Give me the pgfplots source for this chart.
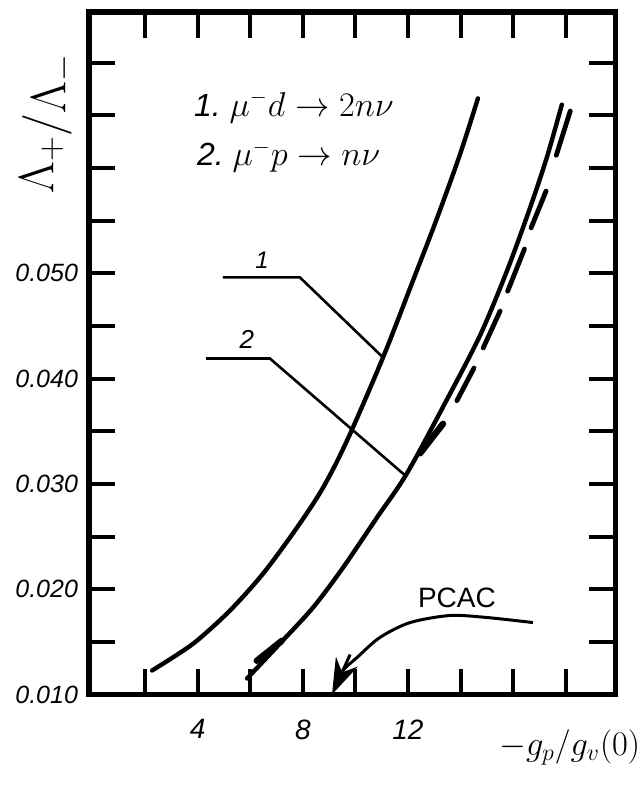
\documentclass[border=0pt]{standalone}
\usepackage{fontspec}
\setmainfont{Liberation Sans}
\usepackage{pgfplots}
\pgfplotsset{compat=1.18}
\usetikzlibrary{arrows.meta}
\begin{document}
\begin{tikzpicture}
\begin{axis}[
  scale only axis,
  width=263.25bp, height=341.25bp,
  xmin=-0.13, xmax=19.89,
  ymin=0.010, ymax=0.0748,
  axis line style={line width=2.6bp},
  tick align=inside,
  major tick length=13bp,
  every tick/.style={black, line width=2bp},
  xtick={2,4,6,8,10,12,14,16,18},
  xticklabels={,4,,8,,12,,,},
  ytick={0.010,0.015,0.020,0.025,0.030,0.035,0.040,0.045,0.050,0.055,0.060,0.065,0.070},
  yticklabels={0.010,,0.020,,0.030,,0.040,,0.050,,,,},
  scaled y ticks=false,
  scaled x ticks=false,
  xticklabel style={font=\fontsize{14bp}{16bp}\selectfont\itshape, yshift=-9bp},
  yticklabel style={font=\fontsize{12.5bp}{14bp}\selectfont\itshape, xshift=-2bp},
  clip=false,
]
% curve 1: mu- d -> 2 n nu
\addplot[line width=2.2bp, smooth, line cap=round] coordinates {
 (2.27,0.01228) (3.14,0.01365) (3.98,0.01512) (5.23,0.01797) (6.49,0.02148) (7.78,0.02585)
 (8.77,0.02964) (9.68,0.03410) (11.05,0.0420) (12.19,0.0493) (13.1,0.0552)
 (13.98,0.0613) (14.66,0.0666)};
% curve 2: mu- p -> n nu
\addplot[line width=2.2bp, smooth, line cap=round] coordinates {
 (5.88,0.01152) (7.13,0.01484) (8.39,0.01826) (9.53,0.02205) (10.82,0.0268)
 (11.96,0.0310) (13.48,0.0380) (14.74,0.0441) (15.76,0.0502) (16.64,0.0562)
 (17.28,0.0610) (17.85,0.0660)};
% dashed curve (drawn dash by dash)
\addplot[line width=3.2bp, line cap=round] coordinates {(6.25,0.0132) (7.2,0.0151)};
\addplot[line width=3.2bp, line cap=round] coordinates {(12.46,0.0329) (13.33,0.0357)};
\addplot[line width=2.4bp, line cap=round] coordinates {(13.86,0.0379) (14.51,0.0410)};
\addplot[line width=2.4bp, line cap=round] coordinates {(14.86,0.0429) (15.50,0.0464)};
\addplot[line width=2.4bp, line cap=round] coordinates {(15.79,0.0483) (16.43,0.0523)};
\addplot[line width=2.4bp, line cap=round] coordinates {(16.68,0.0543) (17.25,0.0578)};
\addplot[line width=2.4bp, line cap=round] coordinates {(17.64,0.0612) (18.17,0.0654)};
% leader lines
\addplot[line width=1.3bp] coordinates {(4.96,0.0496) (7.89,0.0496) (11.05,0.0420)};
\addplot[line width=1.3bp] coordinates {(4.32,0.0419) (6.75,0.0419) (11.89,0.0308)};
% PCAC arrow
\addplot[line width=1.5bp, smooth] coordinates {
 (16.75,0.01683) (15.0,0.01731) (13.6,0.0175) (12.08,0.01683) (10.93,0.01541)
 (10.06,0.01351) (9.53,0.01228) (9.25,0.0108)};
\addplot[line width=1.5bp, -{Stealth[length=18bp, width=12bp]}] coordinates {(9.8,0.0138) (9.11,0.0100)};
\node[font=\fontsize{14bp}{16bp}\selectfont] at (axis cs:13.86,0.0192) {PCAC};
\node[font=\fontsize{12bp}{14bp}\selectfont\itshape] at (axis cs:6.45,0.0512) {1};
\node[font=\fontsize{13bp}{15bp}\selectfont\itshape] at (axis cs:5.87,0.0437) {2};
\node[anchor=base west, font=\fontsize{16bp}{18bp}\selectfont] at (axis cs:3.6,0.0649) {{\itshape 1.}~$\mu^{-}d\rightarrow 2n\nu$};
\node[anchor=base west, font=\fontsize{16bp}{18bp}\selectfont] at (axis cs:3.71,0.0602) {{\itshape 2.}~$\mu^{-}p\rightarrow n\nu$};
\node[rotate=90, font=\fontsize{23bp}{25bp}\selectfont] at (axis cs:-1.7,0.0642) {$\raisebox{3bp}{$\Lambda_{+}$}\Big/\raisebox{-3bp}{$\Lambda_{-}$}$};
\node[font=\fontsize{17bp}{19bp}\selectfont] at (axis cs:18.15,0.0050) {$-g_{p}\big/g_{v}(0)$};
\end{axis}
\pgfresetboundingbox
\path[use as bounding box] ([xshift=-44.5bp,yshift=-45.25bp]current axis.south west) rectangle ([xshift=11.75bp,yshift=6bp]current axis.north east);
\end{tikzpicture}
\end{document}
